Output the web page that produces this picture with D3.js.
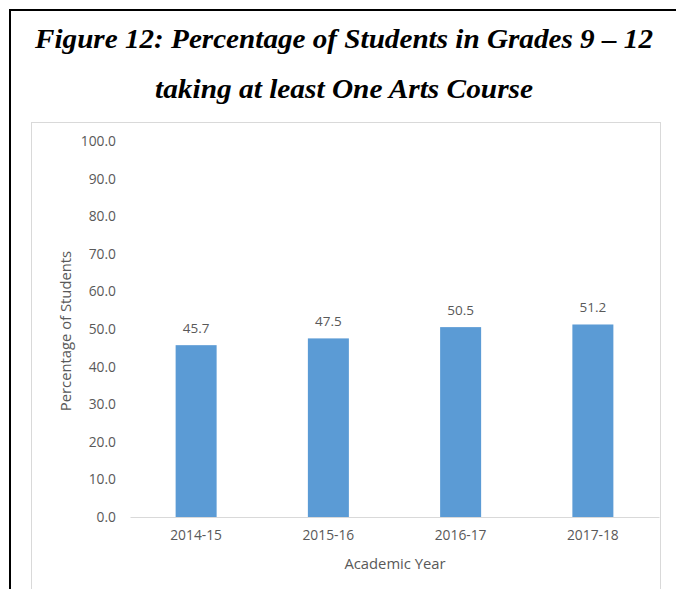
<!DOCTYPE html>
<html>
<head>
<meta charset="utf-8">
<script src="https://cdn.jsdelivr.net/npm/d3@7"></script>
<style>
    body { margin: 0; background: #fff; }
    .title { font-family: "Liberation Serif", "Times New Roman", serif; font-weight: bold; font-style: italic; fill: #000; }
    .tick text, .lbl { font-family: "Open Sans", "Noto Sans", sans-serif; fill: #595959; }
</style>
</head>
<body>
<script>
(function(){

    //chart data
    var years = ["2014-15", "2015-16", "2016-17", "2017-18"];
    var values = [45.7, 47.5, 50.5, 51.2];
    var yTicks = [0, 10, 20, 30, 40, 50, 60, 70, 80, 90, 100];

    var width = 676,
        height = 589;

    var svg = d3.select("body")
        .append("svg")
        .attr("width", width)
        .attr("height", height);

    //outer frame (top and left edges)
    svg.append("path")
        .attr("d", "M10,589 V10 H676")
        .attr("fill", "none")
        .attr("stroke", "#000")
        .attr("stroke-width", 2);

    //title lines
    svg.append("text")
        .attr("class", "title")
        .attr("x", 344).attr("y", 48)
        .attr("text-anchor", "middle")
        .attr("font-size", 28)
        .attr("textLength", 618)
        .attr("lengthAdjust", "spacingAndGlyphs")
        .text("Figure 12: Percentage of Students in Grades 9 \u2013 12");

    svg.append("text")
        .attr("class", "title")
        .attr("x", 344).attr("y", 98)
        .attr("text-anchor", "middle")
        .attr("font-size", 28)
        .attr("textLength", 378)
        .attr("lengthAdjust", "spacingAndGlyphs")
        .text("taking at least One Arts Course");

    //chart area box
    svg.append("rect")
        .attr("x", 31.5).attr("y", 122.5)
        .attr("width", 629).attr("height", 480)
        .attr("fill", "none")
        .attr("stroke", "#d9d9d9")
        .attr("stroke-width", 1);

    //scales
    var x = d3.scaleBand()
        .domain(years)
        .range([130, 659])
        .paddingInner(0.69)
        .paddingOuter(0.345);

    var y = d3.scaleLinear()
        .domain([0, 100])
        .range([517, 141]);

    //y axis
    var yAxis = svg.append("g")
        .attr("transform", "translate(116,0)")
        .call(d3.axisLeft(y).tickValues(yTicks).tickFormat(d3.format(".1f")).tickSize(0).tickPadding(0));
    yAxis.select(".domain").remove();
    yAxis.selectAll(".tick text").attr("font-size", 13.8);

    //bars
    svg.selectAll(".bar")
        .data(values)
        .enter()
        .append("rect")
        .attr("class", "bar")
        .attr("x", function(d, i){ return x(years[i]); })
        .attr("y", function(d){ return y(d); })
        .attr("width", x.bandwidth())
        .attr("height", function(d){ return y(0) - y(d); })
        .attr("fill", "#5b9bd5");

    //value labels
    svg.selectAll(".val")
        .data(values)
        .enter()
        .append("text")
        .attr("class", "lbl")
        .attr("x", function(d, i){ return x(years[i]) + x.bandwidth() / 2; })
        .attr("y", function(d){ return y(d) - 12; })
        .attr("text-anchor", "middle")
        .attr("font-size", 13.5)
        .text(function(d){ return d.toFixed(1); });

    //x axis
    var xAxis = svg.append("g")
        .attr("transform", "translate(0," + y(0) + ")")
        .call(d3.axisBottom(x).tickSize(0).tickPadding(13));
    xAxis.select(".domain").attr("stroke", "#d9d9d9");
    xAxis.selectAll(".tick text").attr("font-size", 13.8);

    //axis titles
    svg.append("text")
        .attr("class", "lbl")
        .attr("transform", "translate(71,331) rotate(-90)")
        .attr("text-anchor", "middle")
        .attr("font-size", 14.8)
        .text("Percentage of Students");

    svg.append("text")
        .attr("class", "lbl")
        .attr("x", 395).attr("y", 569)
        .attr("text-anchor", "middle")
        .attr("font-size", 14.8)
        .text("Academic Year");

})();
</script>
</body>
</html>
